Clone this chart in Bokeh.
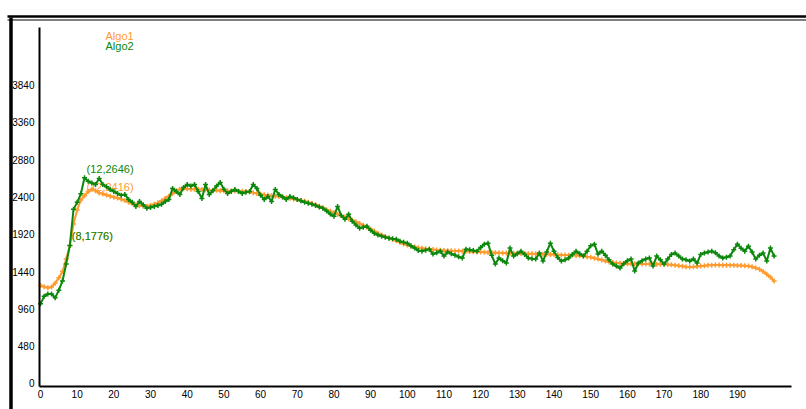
from bokeh.plotting import figure
from bokeh.models import Range1d, FixedTicker, Label, ColumnDataSource, LinearAxis
from bokeh.core.properties import value
from bokeh.embed import file_html
from bokeh.resources import INLINE

x_vals = list(range(201))

algo1 = [
    1260, 1245, 1230, 1240, 1290, 1360, 1440, 1600, 1776, 2050,
    2230, 2360, 2416, 2470, 2500, 2480, 2450, 2440, 2425, 2410,
    2395, 2385, 2370, 2355, 2335, 2315, 2300, 2290, 2280, 2280,
    2290, 2305, 2325, 2350, 2380, 2410, 2445, 2480, 2500, 2505,
    2505, 2500, 2500, 2495, 2495, 2490, 2490, 2485, 2485, 2480,
    2480, 2478, 2476, 2475, 2474, 2472, 2470, 2465, 2455, 2445,
    2435, 2428, 2420, 2414, 2410, 2405, 2398, 2390, 2382, 2374,
    2366, 2355, 2343, 2330, 2316, 2300, 2280, 2258, 2236, 2214,
    2196, 2178, 2160, 2140, 2120, 2100, 2080, 2058, 2035, 2010,
    1985, 1960, 1930, 1910, 1890, 1870, 1855, 1835, 1815, 1795,
    1780, 1766, 1755, 1745, 1738, 1732, 1728, 1724, 1718, 1714,
    1710, 1708, 1706, 1704, 1703, 1702, 1700, 1697, 1694, 1692,
    1690, 1688, 1686, 1684, 1682, 1680, 1679, 1677, 1676, 1675,
    1674, 1672, 1671, 1670, 1668, 1667, 1665, 1663, 1661, 1660,
    1658, 1656, 1654, 1652, 1650, 1648, 1645, 1642, 1638, 1630,
    1622, 1612, 1600, 1588, 1575, 1563, 1555, 1550, 1546, 1543,
    1541, 1540, 1540, 1539, 1538, 1537, 1536, 1535, 1534, 1533,
    1532, 1530, 1526, 1520, 1514, 1508, 1502, 1498, 1500, 1505,
    1510, 1515, 1519, 1522, 1523, 1523, 1522, 1521, 1520, 1519,
    1518, 1516, 1513, 1510, 1500, 1485, 1468, 1440, 1405, 1365,
    1318,
]

algo2 = [
    1024, 1120, 1152, 1150, 1101, 1200, 1318, 1536, 1776, 2240,
    2330, 2440, 2646, 2600, 2580, 2560, 2637, 2560, 2530, 2496,
    2470, 2445, 2420, 2432, 2368, 2330, 2278, 2342, 2300, 2253,
    2265, 2278, 2290, 2304, 2340, 2368, 2509, 2470, 2432, 2520,
    2560, 2540, 2560, 2470, 2381, 2560, 2432, 2480, 2540, 2586,
    2500, 2445, 2470, 2496, 2470, 2445, 2460, 2470, 2560, 2509,
    2420, 2368, 2406, 2342, 2496, 2432, 2400, 2368, 2406, 2390,
    2368, 2350, 2330, 2317, 2304, 2290, 2270, 2253, 2220, 2180,
    2150, 2278, 2160, 2112, 2176, 2086, 2040, 1997, 2010, 2022,
    1970, 1933, 1910, 1894, 1880, 1869, 1862, 1856, 1830, 1815,
    1805, 1770, 1741, 1710, 1702, 1715, 1728, 1664, 1680, 1702,
    1638, 1690, 1670, 1650, 1630, 1613, 1728, 1720, 1710, 1702,
    1750, 1790, 1805, 1650, 1536, 1613, 1580, 1549, 1741, 1638,
    1670, 1702, 1660, 1613, 1605, 1600, 1677, 1574, 1690, 1805,
    1700, 1620, 1574, 1590, 1613, 1660, 1702, 1670, 1638, 1700,
    1770, 1792, 1664, 1702, 1650, 1590, 1536, 1510, 1485, 1540,
    1580, 1600, 1446, 1549, 1580, 1600, 1613, 1510, 1638, 1590,
    1536, 1600, 1660, 1677, 1640, 1600, 1590, 1574, 1600, 1549,
    1660, 1677, 1690, 1702, 1680, 1640, 1613, 1625, 1638, 1720,
    1792, 1740, 1702, 1766, 1690, 1600, 1650, 1677, 1574, 1741,
    1638,
]

series_names = ["Algo1", "Algo2"]
series_colors = ["#FF9A2E", "#0B870B"]
y_ticks = [0, 480, 960, 1440, 1920, 2400, 2880, 3360, 3840]
x_ticks = list(range(0, 200, 10))
annotated_idx = [8, 12]

FONT = "Liberation Sans"

# pixel <-> data helpers (picture pixels), used only for decoration placement
X0_PX, X_PER = 40.0, 3.668
Y0_PX, Y_PER = 386.0, 0.0777
def dx(px):
    return (px - X0_PX) / X_PER
def dy(py):
    return (Y0_PX - py) / Y_PER - 40

W, H = 806, 409
p = figure(width=W, height=H, output_backend="svg", toolbar_location=None,
           x_range=Range1d(dx(0), dx(W)), y_range=Range1d(dy(H), dy(0)),
           x_axis_location=None, y_axis_location=None,
           min_border=0, min_border_left=0, min_border_right=0,
           min_border_top=0, min_border_bottom=0)
p.background_fill_color = "white"
p.border_fill_color = "white"
p.outline_line_color = None
p.grid.visible = False

xaxis = LinearAxis(fixed_location=dy(386), bounds=(dx(39), dx(791)))
yaxis = LinearAxis(fixed_location=dx(39), bounds=(dy(386), dy(27)))
p.add_layout(xaxis, "below")
p.add_layout(yaxis, "left")
for ax, ticks in ((xaxis, x_ticks), (yaxis, y_ticks)):
    ax.ticker = FixedTicker(ticks=ticks)
    ax.axis_line_color = "black"
    ax.axis_line_width = 2
    ax.major_tick_line_color = None
    ax.minor_tick_line_color = None
    ax.major_tick_out = 0
    ax.major_tick_in = 0
    ax.major_label_text_font = FONT
    ax.major_label_text_font_size = "10px"
    ax.major_label_text_color = "black"
xaxis.major_label_standoff = 3
xaxis.major_label_text_align = "left"
yaxis.major_label_standoff = 5

# outer frame of the original picture (double line on top, thick line at left)
p.segment(x0=[dx(7), dx(7), dx(10.5)], y0=[dy(16), dy(19.5), dy(17)],
          x1=[dx(W), dx(W), dx(10.5)], y1=[dy(16), dy(19.5), dy(H)],
          line_color="black", line_width=[2.5, 1.2, 3.5])

for name, ys, col in zip(series_names, (algo1, algo2), series_colors):
    src = ColumnDataSource(dict(x=x_vals, y=ys))
    p.line("x", "y", source=src, line_color=col, line_width=2)
    p.scatter("x", "y", source=src, marker="cross", size=5, line_color=col,
              line_width=1.5)
    ax_ = [x_vals[i] for i in annotated_idx]
    ay_ = [ys[i] for i in annotated_idx]
    txt = [f"({x_vals[i]},{ys[i]})" for i in annotated_idx]
    tsrc = ColumnDataSource(dict(x=ax_, y=ay_, t=txt))
    p.text("x", "y", text="t", source=tsrc, text_color=col,
           text_font=value(FONT), text_font_size="11px",
           text_baseline="middle", x_offset=2, y_offset=-9)

legend_py = [35, 45]
for name, col, lpy in zip(series_names, series_colors, legend_py):
    p.add_layout(Label(x=dx(105), y=dy(lpy), text=name, text_color=col,
                       text_font=FONT, text_font_size="11px",
                       text_baseline="middle"))

open("out.html", "w").write(file_html(p, INLINE))
